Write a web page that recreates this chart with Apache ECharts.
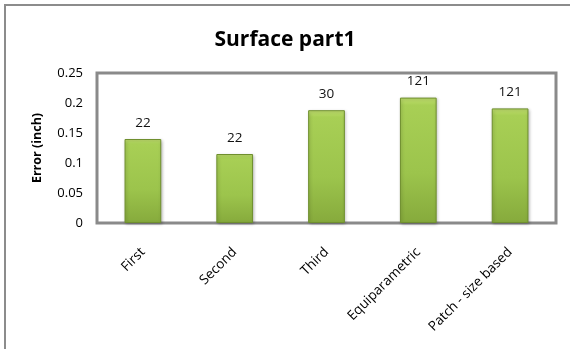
<!DOCTYPE html>
<html>
<head>
<meta charset="utf-8">
<script src="https://cdn.jsdelivr.net/npm/echarts@6/dist/echarts.min.js"></script>
<style>
  html, body { margin: 0; padding: 0; background: #fff; }
  #chart { width: 570px; height: 349px; }
</style>
</head>
<body>
<div id="chart"></div>
<script>
// Methods compared on surface part 1
const categories = ['First', 'Second', 'Third', 'Equiparametric', 'Patch - size based'];
// Error of each method, in inches
const errors = [0.140, 0.115, 0.188, 0.209, 0.191];
// Count shown above each bar
const counts = [22, 22, 30, 121, 121];
// Y axis range
const yMin = 0, yMax = 0.25, yStep = 0.05;

const FONT = '"Open Sans", "Noto Sans", sans-serif';

const chart = echarts.init(document.getElementById('chart'), null, { renderer: 'canvas' });

chart.setOption({
  animation: false,
  backgroundColor: '#fff',
  title: {
    text: 'Surface part1',
    left: 'center',
    top: 25,
    textStyle: { fontFamily: FONT, fontSize: 21, fontWeight: 'bold', color: '#000' }
  },
  graphic: [{
    type: 'rect',
    shape: { x: 5, y: 5, width: 620, height: 400 },
    style: { fill: 'none', stroke: '#8c8c8c', lineWidth: 2 },
    z: -1
  }],
  grid: {
    left: 97, top: 73, right: 14, bottom: 126,
    show: true, borderColor: '#8a8a8a', borderWidth: 3, backgroundColor: '#fff'
  },
  xAxis: {
    type: 'category',
    data: categories,
    axisLine: { show: false },
    axisTick: { show: false },
    axisLabel: {
      rotate: 45, margin: 27, interval: 0,
      fontFamily: FONT, fontSize: 13.5, color: '#000'
    }
  },
  yAxis: {
    type: 'value',
    min: yMin, max: yMax, interval: yStep,
    name: 'Error (inch)',
    nameLocation: 'middle',
    nameGap: 53,
    nameTextStyle: { fontFamily: FONT, fontSize: 12.5, fontWeight: 'bold', color: '#000' },
    axisLine: { show: false },
    axisTick: { show: false },
    splitLine: { show: false },
    axisLabel: { margin: 14, fontFamily: FONT, fontSize: 13, color: '#000' }
  },
  series: [{
    type: 'bar',
    data: errors,
    barWidth: '40%',
    itemStyle: {
      color: new echarts.graphic.LinearGradient(0, 0, 0, 1, [
        { offset: 0, color: '#c2e070' },
        { offset: 0.06, color: '#a8cf55' },
        { offset: 0.6, color: '#9cc44c' },
        { offset: 1, color: '#86aa3c' }
      ]),
      borderColor: '#6f8f2e',
      borderWidth: 1,
      shadowColor: 'rgba(0,0,0,0.25)',
      shadowBlur: 3,
      shadowOffsetX: 1,
      shadowOffsetY: 1
    },
    label: {
      show: true,
      position: 'top',
      distance: 9,
      fontFamily: FONT,
      fontSize: 13.5,
      color: '#111',
      formatter: p => String(counts[p.dataIndex])
    }
  }]
});
</script>
</body>
</html>
